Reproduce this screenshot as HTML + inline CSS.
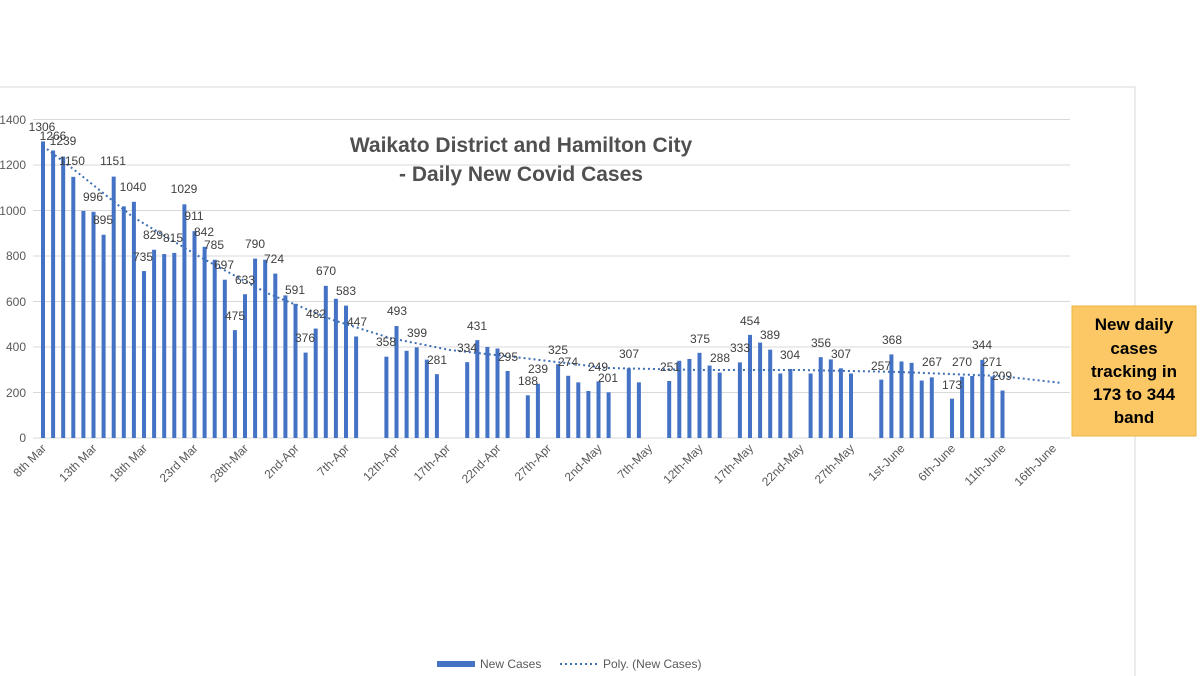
<!DOCTYPE html>
<html><head><meta charset="utf-8"><style>
html,body{margin:0;padding:0;background:#fff;}
svg{display:block;font-family:"Liberation Sans",Arial,sans-serif;}
</style></head><body>
<svg width="1202" height="676" viewBox="0 0 1202 676" xmlns="http://www.w3.org/2000/svg">
<line x1="0" y1="87" x2="1135" y2="87" stroke="#d9d9d9"/>
<line x1="1135" y1="87" x2="1135" y2="676" stroke="#d9d9d9"/>
<g stroke="#d9d9d9" stroke-width="1">
<line x1="33" x2="1070" y1="119.5" y2="119.5"/><line x1="33" x2="1070" y1="165" y2="165"/>
<line x1="33" x2="1070" y1="210.5" y2="210.5"/><line x1="33" x2="1070" y1="256" y2="256"/>
<line x1="33" x2="1070" y1="301.5" y2="301.5"/><line x1="33" x2="1070" y1="347" y2="347"/>
<line x1="33" x2="1070" y1="392.5" y2="392.5"/><line x1="33" x2="1070" y1="438" y2="438"/>
</g>
<g font-size="12" fill="#595959" text-anchor="end">
<text x="26" y="124">1400</text><text x="26" y="169">1200</text><text x="26" y="215">1000</text>
<text x="26" y="260">800</text><text x="26" y="306">600</text><text x="26" y="351">400</text>
<text x="26" y="397">200</text><text x="26" y="442">0</text>
</g>
<text x="521" y="152" font-size="21" font-weight="bold" fill="#505050" text-anchor="middle">Waikato District and Hamilton City</text>
<text x="521" y="181" font-size="21" font-weight="bold" fill="#505050" text-anchor="middle">- Daily New Covid Cases</text>
<g id="bars" fill="#4472c4"></g>
<polyline fill="none" stroke="#3f6fb5" stroke-width="2" stroke-dasharray="2,3" points="43,146 77,172 133,217 200,257 267,293 333,320 390,338 450,350 523,358 607,368 700,370 800,370 900,372 1000,376 1062,383"/>
<g id="labels" font-size="12" fill="#404040" text-anchor="middle"></g>
<g id="xl" font-size="12" fill="#595959" text-anchor="end"></g>
<rect x="1072" y="306" width="124" height="130" fill="#fcc865" stroke="#eeb33f"/>
<g font-size="17" font-weight="bold" fill="#000" text-anchor="middle">
<text x="1134" y="330">New daily</text><text x="1134" y="354">cases</text>
<text x="1134" y="377">tracking in</text><text x="1134" y="400">173 to 344</text>
<text x="1134" y="423">band</text></g>
<rect x="437" y="661" width="38" height="6" fill="#4472c4"/>
<text x="480" y="668" font-size="12" fill="#595959">New Cases</text>
<line x1="560" y1="664" x2="598" y2="664" stroke="#3f6fb5" stroke-width="2" stroke-dasharray="2,3"/>
<text x="603" y="668" font-size="12" fill="#595959">Poly. (New Cases)</text>
<script>
var d={0:1306,1:1266,2:1239,3:1150,4:1000,5:996,6:895,7:1151,8:1020,9:1040,10:735,11:829,12:810,13:815,14:1029,15:911,16:842,17:785,18:697,19:475,20:633,21:790,22:785,23:724,24:628,25:591,26:376,27:482,28:670,29:613,30:583,31:447,34:358,35:493,36:384,37:399,38:345,39:281,42:334,43:431,44:401,45:394,46:295,48:188,49:239,51:325,52:274,53:245,54:207,55:249,56:201,58:307,59:245,62:251,63:340,64:348,65:375,66:319,67:288,69:333,70:454,71:420,72:389,73:284,74:304,76:284,77:356,78:346,79:307,80:284,83:257,84:368,85:337,86:331,87:253,88:267,90:173,91:270,92:273,93:344,94:271,95:209};
var ns="http://www.w3.org/2000/svg",b=document.getElementById("bars");
for(var k in d){var x=43+k*10.1,h=d[k]*0.2271;var r=document.createElementNS(ns,"rect");r.setAttribute("x",x-2);r.setAttribute("y",438-h);r.setAttribute("width",4);r.setAttribute("height",h);b.appendChild(r);}
var L=[[1306,42,131],[1266,53,140],[1239,63,145],[1150,72,165],[996,93,201],[895,103,224],[1151,113,165],[1040,133,191],[735,143,261],[829,153,239],[815,173,242],[1029,184,193],[911,194,220],[842,204,236],[785,214,249],[697,224,269],[475,235,320],[633,245,284],[790,255,248],[724,274,263],[591,295,294],[376,305,342],[482,316,318],[670,326,275],[583,346,295],[447,357,326],[358,386,346],[493,397,315],[399,417,337],[281,437,364],[334,467,352],[431,477,330],[295,508,361],[188,528,385],[239,538,373],[325,558,354],[274,568,366],[249,598,371],[201,608,382],[307,629,358],[251,670,371],[375,700,343],[288,720,362],[333,740,352],[454,750,325],[389,770,339],[304,790,359],[356,821,347],[307,841,358],[257,881,370],[368,892,344],[267,932,366],[173,952,389],[270,962,366],[344,982,349],[271,992,366],[209,1002,380]];
var g=document.getElementById("labels");
L.forEach(function(a){var t=document.createElementNS(ns,"text");t.setAttribute("x",a[1]);t.setAttribute("y",a[2]);t.textContent=a[0];g.appendChild(t);});
var X=["8th Mar","13th Mar","18th Mar","23rd Mar","28th-Mar","2nd-Apr","7th-Apr","12th-Apr","17th-Apr","22nd-Apr","27th-Apr","2nd-May","7th-May","12th-May","17th-May","22nd-May","27th-May","1st-June","6th-June","11th-June","16th-June"];
var xg=document.getElementById("xl");
X.forEach(function(s,i){var x=43+i*5*10.1+4;var t=document.createElementNS(ns,"text");t.setAttribute("x",x);t.setAttribute("y",449);t.setAttribute("transform","rotate(-45 "+x+" 449)");t.textContent=s;xg.appendChild(t);});
</script>
</svg>
</body></html>
